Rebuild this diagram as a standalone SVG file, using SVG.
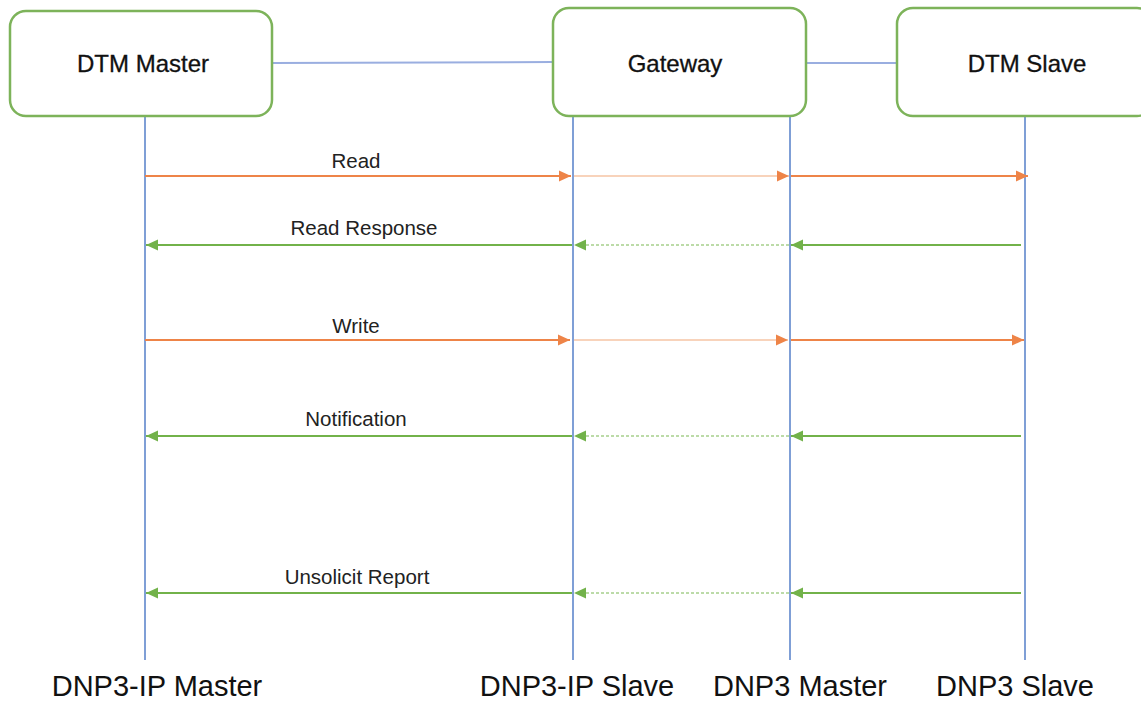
<svg xmlns="http://www.w3.org/2000/svg" width="1141" height="702" viewBox="0 0 1141 702">
<style>
.box{fill:#fff;stroke:#7DB35A;stroke-width:2.5}
.bt{font-family:"Liberation Sans",Arial,sans-serif;font-size:24px;fill:#111;text-anchor:middle;stroke:#111;stroke-width:0.3}
.ml{font-family:"Liberation Sans",Arial,sans-serif;font-size:20.5px;fill:#222;text-anchor:middle}
.bl{font-family:"Liberation Sans",Arial,sans-serif;font-size:29px;fill:#111;text-anchor:middle}
.life{stroke:#7F9FD6;stroke-width:2}
.link{stroke:#9AAEE0;stroke-width:2}
.or{stroke:#EE8448;stroke-width:2;marker-end:url(#ao)}
.orl{stroke:#F6C4A4;stroke-width:1.5;marker-end:url(#ao)}
.gr{stroke:#72B24A;stroke-width:2;marker-end:url(#ag)}
.grd{stroke:#A6D08C;stroke-width:1.5;stroke-dasharray:3 2;marker-end:url(#ag)}
</style>
<defs>
<marker id="ao" markerUnits="userSpaceOnUse" markerWidth="13" markerHeight="13" refX="12" refY="6.5" orient="auto"><path d="M0,1 L12,6.5 L0,12 z" fill="#EE8448"/></marker>
<marker id="ag" markerUnits="userSpaceOnUse" markerWidth="13" markerHeight="13" refX="12" refY="6.5" orient="auto"><path d="M0,1 L12,6.5 L0,12 z" fill="#72B24A"/></marker>
</defs>
<rect width="1141" height="702" fill="#fff"/>
<g id="connectors">
<line class="link" x1="272" y1="63" x2="553" y2="62"/>
<line class="link" x1="806" y1="63" x2="897" y2="63" stroke="#7F9FD6"/>
<line class="life" x1="145" y1="116" x2="145" y2="660"/>
<line class="life" x1="573" y1="116" x2="573" y2="660"/>
<line class="life" x1="790" y1="116" x2="790" y2="660"/>
<line class="life" x1="1025" y1="116" x2="1025" y2="660"/>
<line class="or" x1="145" y1="176" x2="571" y2="176"/>
<line class="orl" x1="574" y1="176" x2="789" y2="176"/>
<line class="or" x1="791" y1="176" x2="1028" y2="176"/>
<line class="gr" x1="1021" y1="245" x2="791" y2="245"/>
<line class="grd" x1="789" y1="245" x2="574" y2="245"/>
<line class="gr" x1="572" y1="245" x2="146" y2="245"/>
<line class="or" x1="145" y1="340" x2="570" y2="340"/>
<line class="orl" x1="574" y1="340" x2="788" y2="340"/>
<line class="or" x1="791" y1="340" x2="1024" y2="340"/>
<line class="gr" x1="1021" y1="436" x2="791" y2="436"/>
<line class="grd" x1="789" y1="436" x2="574" y2="436"/>
<line class="gr" x1="572" y1="436" x2="146" y2="436"/>
<line class="gr" x1="1021" y1="593" x2="791" y2="593"/>
<line class="grd" x1="789" y1="593" x2="574" y2="593"/>
<line class="gr" x1="572" y1="593" x2="146" y2="593"/>
</g>
<g id="labels">
<text class="ml" x="356" y="168">Read</text>
<text class="ml" x="364" y="235">Read Response</text>
<text class="ml" x="356" y="333">Write</text>
<text class="ml" x="356" y="426">Notification</text>
<text class="ml" x="357" y="584">Unsolicit Report</text>
<text class="bl" x="157" y="696">DNP3-IP Master</text>
<text class="bl" x="577" y="696">DNP3-IP Slave</text>
<text class="bl" x="800" y="696">DNP3 Master</text>
<text class="bl" x="1015" y="696">DNP3 Slave</text>
</g>
<g id="dtm-master">
<rect class="box" x="10" y="11" width="262" height="105" rx="16"/>
<text class="bt" x="143" y="72">DTM Master</text>
</g>
<g id="gateway">
<rect class="box" x="553" y="8" width="253" height="108" rx="16"/>
<text class="bt" x="675" y="72">Gateway</text>
</g>
<g id="dtm-slave">
<rect class="box" x="897" y="8" width="256" height="108" rx="16"/>
<text class="bt" x="1027" y="72">DTM Slave</text>
</g>
</svg>
